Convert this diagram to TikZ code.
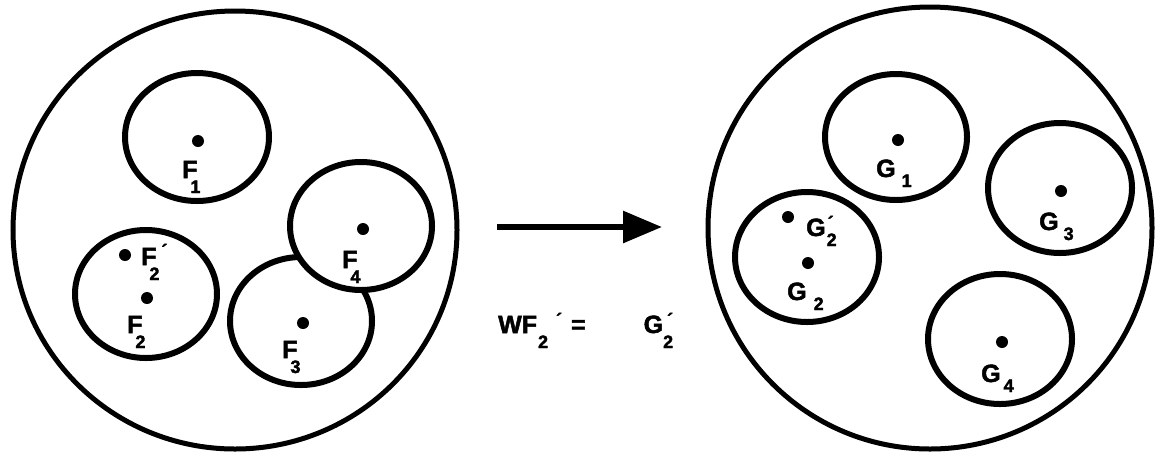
\documentclass[tikz,border=0pt]{standalone}
\usepackage{fontspec}
\setmainfont{Liberation Sans}[BoldFeatures={FakeBold=2}]
\usetikzlibrary{arrows.meta}
\newcommand{\mainsz}{\fontsize{25}{25}\selectfont\bfseries}
\newcommand{\subsz}{\fontsize{18}{18}\selectfont\bfseries}
\newcommand{\Fs}[1]{F\kern-7pt\raisebox{-15pt}{\subsz #1}}
\newcommand{\Gs}[2]{G\kern#2\raisebox{-10pt}{\subsz #1}}
\newcommand{\pr}[2]{\kern#1\raisebox{#2}{\subsz\char"00B4}}
\tikzset{
  outer/.style={draw, line width=5pt},
  inner/.style={draw, line width=6pt, fill=white},
  pt/.style={circle, fill, inner sep=0pt, minimum size=12pt},
  lab/.style={anchor=base west, inner sep=0pt, font=\mainsz},
}
\begin{document}
\begin{tikzpicture}[x=1pt, y=-1pt]
\useasboundingbox (0,0) rectangle (1155,451);
% left big circle
\draw[outer] (235,230) ellipse [x radius=222pt, y radius=219pt];
\draw[inner] (197,137) ellipse [x radius=72pt, y radius=64pt];
\draw[inner] (146,294) ellipse [x radius=71pt, y radius=64pt];
\draw[inner] (301,321) ellipse [x radius=71pt, y radius=64pt];
\draw[inner] (361,226) ellipse [x radius=71pt, y radius=64pt];
\node[pt] (f1) at (198,141) {};
\node[pt] (f2p) at (125,255) {};
\node[pt] (f2) at (147,298) {};
\node[pt] (f4) at (363,229) {};
\node[pt] (f3) at (303,323) {};
\node[lab] (lf1) at (182,178) {\Fs{1}};
\node[lab] (lf2p) at (141,265) {\Fs{2}\pr{2pt}{8pt}};
\node[lab] (lf2) at (127,333) {\Fs{2}};
\node[lab] (lf4) at (342,268) {\Fs{4}};
\node[lab] (lf3) at (282,358) {\Fs{3}};
% arrow
\coordinate (a1) at (497,227);
\coordinate (a2) at (662,227);
\draw[line width=6pt, -{Triangle[length=39pt, width=31pt]}] (a1) -- (a2);
\node[lab] (eq) at (498,333) {W\kern0ptF\kern1pt\raisebox{-15pt}{\subsz 2}\pr{8pt}{7pt}\kern9pt=\kern58ptG\kern0pt\raisebox{-15pt}{\subsz 2}\pr{-6pt}{7pt}};
% right big circle
\draw[outer] (930,228) ellipse [x radius=222pt, y radius=221pt];
\draw[inner] (896,137) ellipse [x radius=71pt, y radius=63pt];
\draw[inner] (1060,188) ellipse [x radius=72pt, y radius=65pt];
\draw[inner] (807,257) ellipse [x radius=72pt, y radius=65pt];
\draw[inner] (1000,339) ellipse [x radius=72pt, y radius=65pt];
\node[pt] (g1) at (898,140) {};
\node[pt] (g3) at (1061,191) {};
\node[pt] (g2p) at (788,217) {};
\node[pt] (g2) at (808,263) {};
\node[pt] (g4) at (1002,342) {};
\node[lab] (lg1) at (876,177) {\Gs{1}{6pt}};
\node[lab] (lg2p) at (806,236) {\Gs{2}{1pt}\pr{-9pt}{7pt}};
\node[lab] (lg2) at (787,300) {\Gs{2}{7pt}};
\node[lab] (lg3) at (1039,230) {\Gs{3}{5pt}};
\node[lab] (lg4) at (981,382) {\Gs{4}{3pt}};
\end{tikzpicture}
\end{document}
